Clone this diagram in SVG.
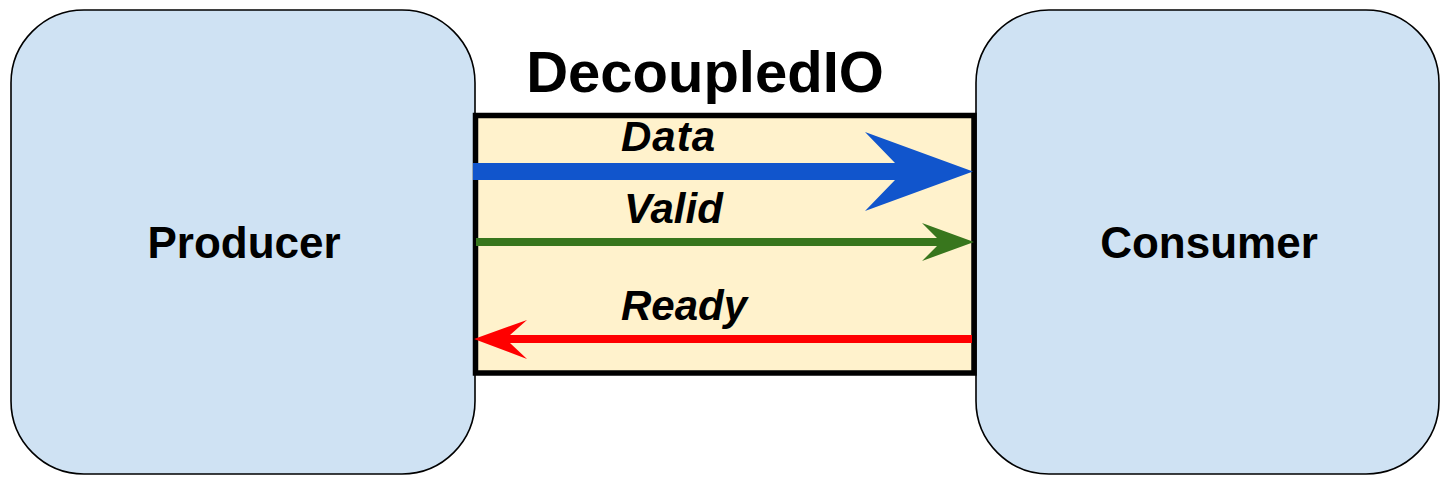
<svg xmlns="http://www.w3.org/2000/svg" width="1450" height="485" viewBox="0 0 1450 485">
  <style>
    .box { fill: #cfe2f3; stroke: #000000; stroke-width: 1.6; }
    .chan { fill: #fff2cc; stroke: #000000; stroke-width: 5.5; }
    .lbl { font-family: "Liberation Sans", Arial, sans-serif; font-weight: bold; fill: #000000; }
    .node-lbl { font-size: 44px; text-anchor: middle; }
    .sig { font-size: 42px; font-style: italic; }
    .title { font-size: 58px; text-anchor: middle; }
  </style>
  <rect x="0" y="0" width="1450" height="485" fill="#ffffff"/>
  <g id="producer">
    <rect class="box" x="11" y="10" width="464" height="464" rx="73" ry="73"/>
    <text class="lbl node-lbl" x="244" y="258">Producer</text>
  </g>
  <g id="consumer">
    <rect class="box" x="976" y="10" width="463" height="464" rx="73" ry="73"/>
    <text class="lbl node-lbl" x="1209" y="258">Consumer</text>
  </g>
  <g id="decoupledio">
    <rect class="chan" x="475.5" y="115.5" width="498.5" height="257.5"/>
    <text class="lbl title" x="705" y="92">DecoupledIO</text>
  </g>
  <g id="connectors">
    <g id="data">
      <polygon fill="#1155cc" points="473,163 895,163 865,132 973,171.5 865,211 895,180 473,180"/>
      <text class="lbl sig" x="621" y="151" letter-spacing="1">Data</text>
    </g>
    <g id="valid">
      <polygon fill="#38761d" points="476,238 937,238 922,223 974,242 922,261 937,246 476,246"/>
      <text class="lbl sig" x="624" y="223">Valid</text>
    </g>
    <g id="ready">
      <polygon fill="#ff0000" points="972,335 510,335 527,320 474,339 527,359 510,343 972,343"/>
      <text class="lbl sig" x="621" y="320">Ready</text>
    </g>
  </g>
</svg>
